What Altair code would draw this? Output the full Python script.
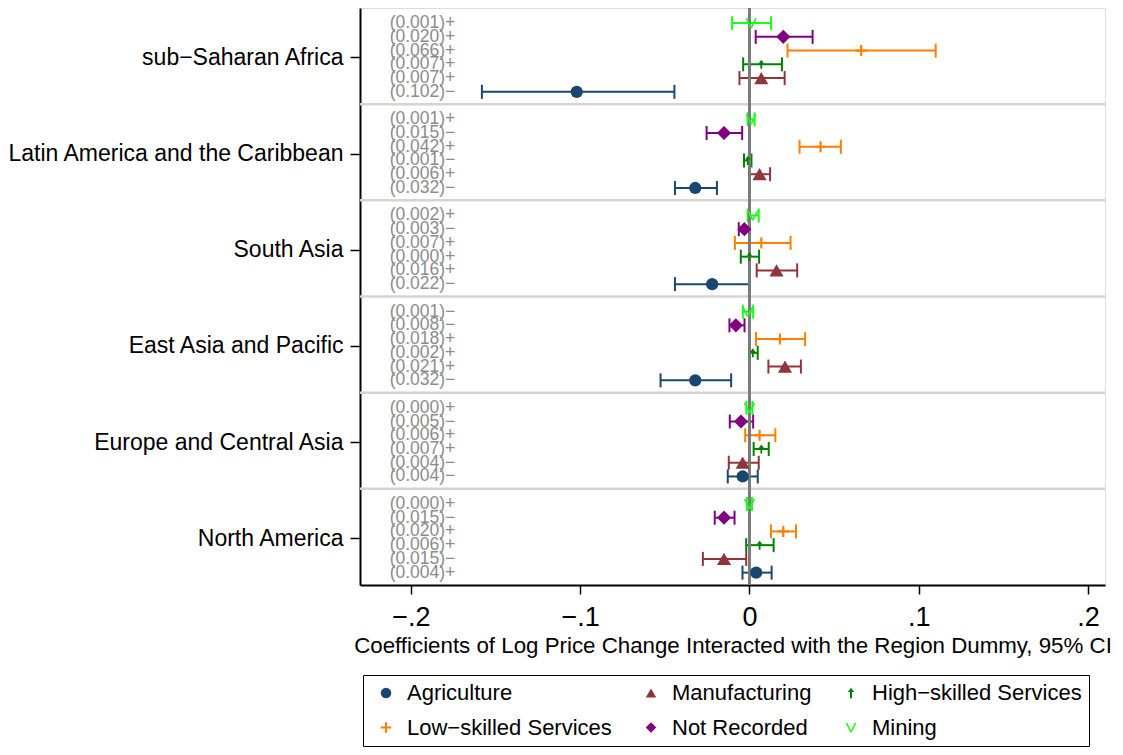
import json
import altair as alt
import pandas as pd

# ---------------- data ----------------
regions = ["sub−Saharan Africa", "Latin America and the Caribbean", "South Asia",
           "East Asia and Pacific", "Europe and Central Asia", "North America"]
sectors = ["Agriculture", "Manufacturing", "High−skilled Services",
           "Low−skilled Services", "Not Recorded", "Mining"]
colors = ["#1a476f", "#90353b", "#008000", "#ff7f00", "#800080", "#1aff1a"]

agri_coef = [-0.102, -0.032, -0.022, -0.032, -0.004, 0.004]
agri_lo = [-0.158, -0.044, -0.044, -0.0525, -0.0128, -0.0041]
agri_hi = [-0.0443, -0.0192, 0.0, -0.0108, 0.0049, 0.0131]
agri_lab = ["(0.102)−", "(0.032)−", "(0.022)−", "(0.032)−", "(0.004)−", "(0.004)+"]

mfg_coef = [0.007, 0.006, 0.016, 0.021, -0.004, -0.015]
mfg_lo = [-0.0059, -0.0002, 0.0043, 0.0112, -0.0122, -0.0275]
mfg_hi = [0.0208, 0.0122, 0.0282, 0.0304, 0.0055, -0.0019]
mfg_lab = ["(0.007)+", "(0.006)+", "(0.016)+", "(0.021)+", "(0.004)−", "(0.015)−"]

hs_coef = [0.007, -0.001, 0.000, 0.002, 0.007, 0.006]
hs_lo = [-0.0037, -0.0032, -0.0051, 0.0002, 0.0025, -0.0019]
hs_hi = [0.0192, 0.0012, 0.0057, 0.0049, 0.0114, 0.0143]
hs_lab = ["(0.007)+", "(0.001)−", "(0.000)+", "(0.002)+", "(0.007)+", "(0.006)+"]

ls_coef = [0.066, 0.042, 0.007, 0.018, 0.006, 0.020]
ls_lo = [0.0225, 0.0296, -0.0086, 0.0039, -0.0025, 0.0127]
ls_hi = [0.110, 0.054, 0.0243, 0.0329, 0.0153, 0.0275]
ls_lab = ["(0.066)+", "(0.042)+", "(0.007)+", "(0.018)+", "(0.006)+", "(0.020)+"]

nr_coef = [0.020, -0.015, -0.003, -0.008, -0.005, -0.015]
nr_lo = [0.0037, -0.0253, -0.0063, -0.0118, -0.0116, -0.0205]
nr_hi = [0.0373, -0.0043, 0.0002, -0.0029, 0.0022, -0.0088]
nr_lab = ["(0.020)+", "(0.015)−", "(0.003)−", "(0.008)−", "(0.005)−", "(0.015)−"]

mn_coef = [0.001, 0.001, 0.002, -0.001, 0.000, 0.000]
mn_lo = [-0.0102, -0.001, -0.001, -0.0039, -0.0018, -0.0015]
mn_hi = [0.0128, 0.003, 0.0055, 0.0022, 0.0018, 0.0015]
mn_lab = ["(0.001)+", "(0.001)+", "(0.002)+", "(0.001)−", "(0.000)+", "(0.000)+"]

x_tick_values = [-0.2, -0.1, 0, 0.1, 0.2]
x_tick_labels = ["−.2", "−.1", "0", ".1", ".2"]

# ---------------- styles ----------------
FONT = "Liberation Sans"
plus_path = "M-1,-0.2L-0.2,-0.2L-0.2,-1L0.2,-1L0.2,-0.2L1,-0.2L1,0.2L0.2,0.2L0.2,1L-0.2,1L-0.2,0.2L-1,0.2Z"
v_path = "M-1,-0.85L-0.7,-0.85L0,0.55L0.7,-0.85L1,-0.85L0.16,0.9L-0.16,0.9Z"
arrow_path = "M0,-1L0.6,-0.2L0.2,-0.2L0.2,1L-0.2,1L-0.2,-0.2L-0.6,-0.2Z"
shapes = ["circle", "triangle-up", arrow_path, plus_path, "diamond", v_path]
sizes = [150, 200, 80, 120, 200, 130]

# ---------------- table ----------------
series = [
    (agri_coef, agri_lo, agri_hi, agri_lab),
    (mfg_coef, mfg_lo, mfg_hi, mfg_lab),
    (hs_coef, hs_lo, hs_hi, hs_lab),
    (ls_coef, ls_lo, ls_hi, ls_lab),
    (nr_coef, nr_lo, nr_hi, nr_lab),
    (mn_coef, mn_lo, mn_hi, mn_lab),
]
rows = []
for i, (c, lo, hi, lab) in enumerate(series):
    row_from_top = len(sectors) - 1 - i
    for r, reg in enumerate(regions):
        rows.append({
            "region": reg, "sector": sectors[i],
            "coef": c[r], "lo": lo[r], "hi": hi[r], "label": lab[r],
            "y": 7 * r + 1.1 + row_from_top,
            "col": colors[i], "msize": sizes[i],
        })
df = pd.DataFrame(rows)
sep_df = pd.DataFrame({"y": [7 * r for r in range(1, len(regions))]})

# ---------------- encodings ----------------
xscale = alt.Scale(domain=[-0.23, 0.21], nice=False, zero=False)
yscale = alt.Scale(domain=[0, 42], reverse=True, nice=False, zero=False)

region_expr = json.dumps(regions, ensure_ascii=False) + "[floor(datum.value / 7)]"
xlab_expr = json.dumps(x_tick_labels, ensure_ascii=False) + "[round(datum.value * 10) + 2]"

yaxis = alt.Axis(values=[7 * r + 3.6 for r in range(len(regions))], labelExpr=region_expr,
                 title=None, grid=False, tickSize=10, tickWidth=1.5, tickColor="black",
                 domainColor="black", domainWidth=2, labelFontSize=23, labelPadding=7,
                 labelColor="black", labelFont=FONT, labelLimit=600)
xaxis = alt.Axis(values=x_tick_values, labelExpr=xlab_expr,
                 title="Coefficients of Log Price Change Interacted with the Region Dummy, 95% CI",
                 titleFontSize=22.3, titleFontWeight="normal", titleFont=FONT, titleColor="black",
                 titlePadding=4, labelFontSize=27, labelPadding=10, labelFont=FONT,
                 labelColor="black", tickSize=9, tickWidth=1.5, tickColor="black",
                 domainColor="black", domainWidth=2, grid=False, labelFlush=False)

X = lambda f: alt.X(f, type="quantitative", scale=xscale, axis=xaxis)
Y = alt.Y("y:Q", scale=yscale, axis=yaxis)
stroke_enc = alt.Stroke("col:N", scale=None)

base = alt.Chart(df)

seps = alt.Chart(sep_df).mark_rule(color="#d4d4d4", strokeWidth=2.5).encode(y=Y)

bars = base.mark_rule(strokeWidth=2).encode(x=X("lo"), x2="hi", y=Y, stroke=stroke_enc)
cap_lo = base.mark_rule(strokeWidth=2, yOffset=-7, y2Offset=7).encode(
    x=X("lo"), y=Y, y2="y", stroke=stroke_enc)
cap_hi = base.mark_rule(strokeWidth=2, yOffset=-7, y2Offset=7).encode(
    x=X("hi"), y=Y, y2="y", stroke=stroke_enc)

legend = alt.Legend(title=None, orient="none", legendX=3, legendY=667, columns=3,
                    direction="horizontal", labelFontSize=22, labelFont=FONT,
                    labelColor="black", labelLimit=400, symbolSize=110,
                    symbolStrokeWidth=0, labelOffset=10, columnPadding=23,
                    rowPadding=12.5, padding=7, symbolOffset=5, strokeColor="black")

points = base.mark_point(filled=True, opacity=1, strokeWidth=0).encode(
    x=X("coef"), y=Y,
    color=alt.Color("sector:N", scale=alt.Scale(domain=sectors, range=colors),
                    legend=legend),
    shape=alt.Shape("sector:N", scale=alt.Scale(domain=sectors, range=shapes),
                    legend=legend),
    size=alt.Size("msize:Q", scale=None),
)

notes = base.mark_text(align="left", baseline="middle", fontSize=17.5, font=FONT,
                       color="#8c8c8c").encode(
    x=alt.X(datum=-0.2125, type="quantitative", scale=xscale, axis=xaxis), y=Y,
    text="label:N")

zero = alt.Chart(sep_df).mark_rule(color="#7a7a7a", strokeWidth=2).encode(
    x=alt.X(datum=0, type="quantitative", scale=xscale, axis=xaxis))

chart = alt.layer(seps, bars, cap_lo, cap_hi, zero, points, notes).properties(
    width=745, height=577,
    autosize=alt.AutoSizeParams(type="none"),
    padding={"left": 352, "top": 0, "right": 10, "bottom": 165},
).configure_view(stroke="#333333", strokeWidth=1.5).configure(font=FONT)

chart.save("out.html", embed_options={"renderer": "svg", "actions": False})
